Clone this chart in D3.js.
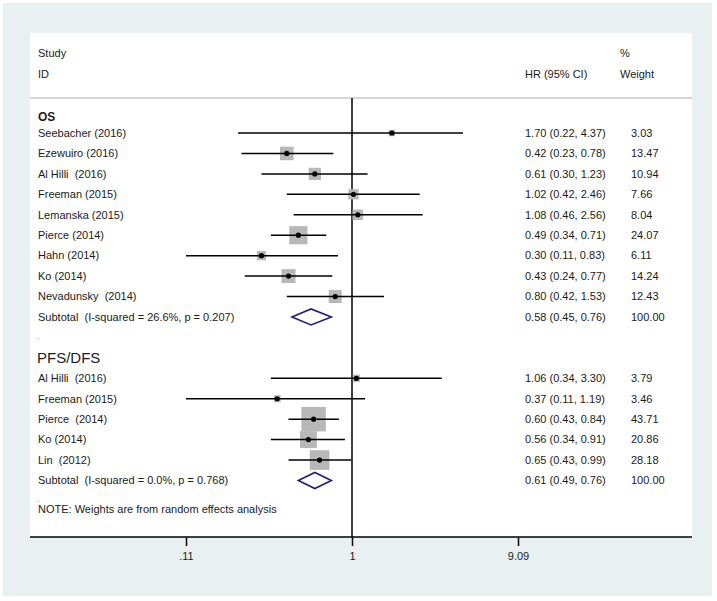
<!DOCTYPE html>
<html>
<head>
<meta charset="utf-8">
<script src="https://cdn.jsdelivr.net/npm/d3@7"></script>
<style>
  body { margin: 0; background: #fff; }
  text { font-family: "Liberation Sans", Arial, sans-serif; fill: #1a1a1a; white-space: pre; }
</style>
</head>
<body>
<div id="chart"></div>
<script>
// OS studies
const osStudies = ["Seebacher (2016)", "Ezewuiro (2016)", "Al Hilli  (2016)", "Freeman (2015)", "Lemanska (2015)",
                   "Pierce (2014)", "Hahn (2014)", "Ko (2014)", "Nevadunsky  (2014)"];
const osHR = [1.70, 0.42, 0.61, 1.02, 1.08, 0.49, 0.30, 0.43, 0.80];
const osLo = [0.22, 0.23, 0.30, 0.42, 0.46, 0.34, 0.11, 0.24, 0.42];
const osHi = [4.37, 0.78, 1.23, 2.46, 2.56, 0.71, 0.83, 0.77, 1.53];
const osWeight = ["3.03", "13.47", "10.94", "7.66", "8.04", "24.07", "6.11", "14.24", "12.43"];
const osSubtotal = { label: "Subtotal  (I-squared = 26.6%, p = 0.207)", hr: 0.58, lo: 0.45, hi: 0.76, w: "100.00" };

// PFS/DFS studies
const pfsStudies = ["Al Hilli  (2016)", "Freeman (2015)", "Pierce  (2014)", "Ko (2014)", "Lin  (2012)"];
const pfsHR = [1.06, 0.37, 0.60, 0.56, 0.65];
const pfsLo = [0.34, 0.11, 0.43, 0.34, 0.43];
const pfsHi = [3.30, 1.19, 0.84, 0.91, 0.99];
const pfsWeight = ["3.79", "3.46", "43.71", "20.86", "28.18"];
const pfsSubtotal = { label: "Subtotal  (I-squared = 0.0%, p = 0.768)", hr: 0.61, lo: 0.49, hi: 0.76, w: "100.00" };

const tickValues = [0.11, 1, 9.09];
const tickLabels = [".11", "1", "9.09"];

const W = 717, H = 601;
const svg = d3.select("#chart").append("svg").attr("width", W).attr("height", H);

// backgrounds
svg.append("rect").attr("x", 3).attr("y", 3).attr("width", 709).attr("height", 593).attr("fill", "#e8f0f2");
svg.append("rect").attr("x", 30).attr("y", 33).attr("width", 662).attr("height", 504).attr("fill", "#fff");

const x = d3.scaleLog().domain([0.11, 9.09]).range([186, 518]);
const y = d3.scaleLinear().domain([0, 17]).range([133, 480.5]);

// rows
const rows = [];
osStudies.forEach((s, i) => rows.push({ label: s, hr: osHR[i], lo: osLo[i], hi: osHi[i], w: osWeight[i], idx: i }));
pfsStudies.forEach((s, i) => rows.push({ label: s, hr: pfsHR[i], lo: pfsLo[i], hi: pfsHi[i], w: pfsWeight[i], idx: 12 + i }));
const subs = [Object.assign({ idx: 9 }, osSubtotal), Object.assign({ idx: 17 }, pfsSubtotal)];

const fmt = d3.format(".2f");
const ciText = d => `${fmt(d.hr)} (${fmt(d.lo)}, ${fmt(d.hi)})`;

// header
const hdr = svg.append("g").style("font-size", "11px");
hdr.append("text").attr("x", 38).attr("y", 53).attr("dy", "0.35em").text("Study");
hdr.append("text").attr("x", 38).attr("y", 74).attr("dy", "0.35em").text("ID");
hdr.append("text").attr("x", 525).attr("y", 74).attr("dy", "0.35em").text("HR (95% CI)");
hdr.append("text").attr("x", 620).attr("y", 53).attr("dy", "0.35em").text("%");
hdr.append("text").attr("x", 620).attr("y", 74).attr("dy", "0.35em").text("Weight");

svg.append("line").attr("x1", 30).attr("x2", 692).attr("y1", 98).attr("y2", 98)
  .attr("stroke", "#c8c8c8").attr("stroke-width", 1.5);

// group labels
svg.append("text").attr("x", 38).attr("y", 117).attr("dy", "0.35em")
  .style("font-size", "12px").style("font-weight", "bold").text("OS");
svg.append("text").attr("x", 37).attr("y", y(11)).attr("dy", "0.35em")
  .style("font-size", "15px").text("PFS/DFS");
svg.append("text").attr("x", 37).attr("y", y(10) - 2).attr("dy", "0.35em")
  .style("font-size", "9px").style("fill", "#999").text(".");
svg.append("text").attr("x", 37).attr("y", 499).attr("dy", "0.35em")
  .style("font-size", "9px").style("fill", "#999").text(".");
svg.append("text").attr("x", 38).attr("y", 509).attr("dy", "0.35em")
  .style("font-size", "11px").text("NOTE: Weights are from random effects analysis");

// null line
svg.append("line").attr("x1", x(1)).attr("x2", x(1)).attr("y1", 98).attr("y2", 537)
  .attr("stroke", "#000").attr("stroke-width", 1.5);

// boxes
const boxSide = d => 3.7 * Math.sqrt(+d.w);
svg.selectAll("rect.box").data(rows).enter().append("rect").attr("class", "box")
  .attr("x", d => x(d.hr) - boxSide(d) / 2)
  .attr("y", d => y(d.idx) - boxSide(d) / 2)
  .attr("width", boxSide).attr("height", boxSide)
  .attr("fill", "#b8b8b8");

// CI lines
svg.selectAll("line.ci").data(rows).enter().append("line").attr("class", "ci")
  .attr("x1", d => x(d.lo)).attr("x2", d => x(d.hi))
  .attr("y1", d => y(d.idx)).attr("y2", d => y(d.idx))
  .attr("stroke", "#000").attr("stroke-width", 1.5);

// point estimates
svg.selectAll("circle.pt").data(rows).enter().append("circle").attr("class", "pt")
  .attr("cx", d => x(d.hr)).attr("cy", d => y(d.idx)).attr("r", 2.6)
  .attr("fill", "#000");

// subtotal diamonds
svg.selectAll("path.dia").data(subs).enter().append("path").attr("class", "dia")
  .attr("d", d => {
    const cy = y(d.idx);
    return `M${x(d.lo)},${cy}L${x(d.hr)},${cy - 8}L${x(d.hi)},${cy}L${x(d.hr)},${cy + 8}Z`;
  })
  .attr("fill", "#fff").attr("stroke", "#1f1f7a").attr("stroke-width", 1.6);

// text columns
const all = rows.concat(subs);
const txt = svg.append("g").style("font-size", "11px");
txt.selectAll("text.lab").data(all).enter().append("text")
  .attr("x", 38).attr("y", d => y(d.idx)).attr("dy", "0.35em").text(d => d.label);
txt.selectAll("text.ci").data(all).enter().append("text")
  .attr("x", 525).attr("y", d => y(d.idx)).attr("dy", "0.35em").text(ciText);
txt.selectAll("text.w").data(all).enter().append("text")
  .attr("x", 631).attr("y", d => y(d.idx)).attr("dy", "0.35em").text(d => d.w);

// axis
svg.append("line").attr("x1", 30).attr("x2", 692).attr("y1", 537).attr("y2", 537)
  .attr("stroke", "#000").attr("stroke-width", 1.5);
const axis = d3.axisBottom(x).tickValues(tickValues).tickFormat((d, i) => tickLabels[i]).tickSize(9).tickPadding(6);
const ag = svg.append("g").attr("transform", "translate(0,537)").call(axis);
ag.select(".domain").remove();
ag.selectAll(".tick line").attr("stroke", "#000").attr("stroke-width", 1.5);
ag.selectAll(".tick text").style("font-size", "11px").style("font-family", "Liberation Sans, Arial, sans-serif").attr("fill", "#1a1a1a");
</script>
</body>
</html>
